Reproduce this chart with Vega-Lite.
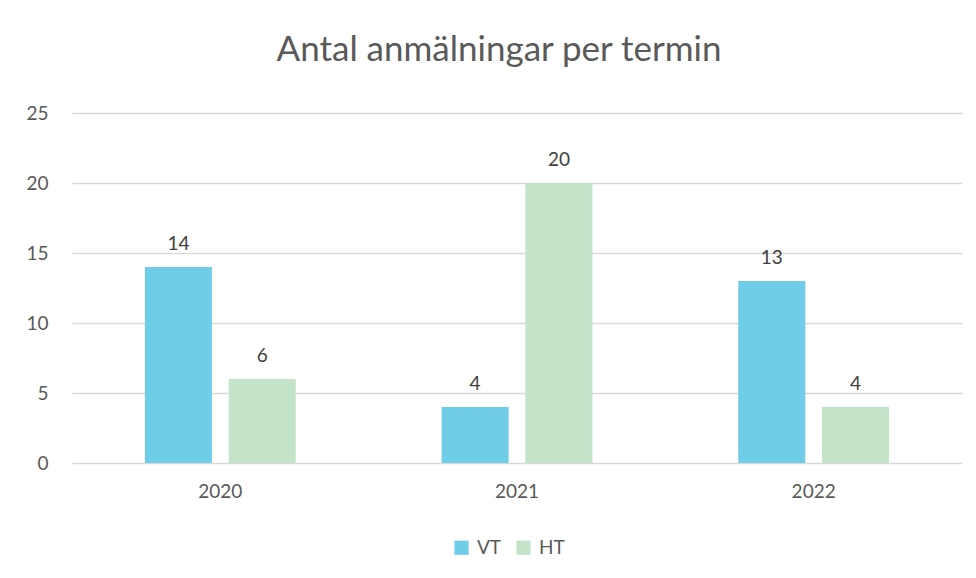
{
  "$schema": "https://vega.github.io/schema/vega-lite/v6.json",
  "width": 890,
  "height": 350,
  "autosize": {"type": "none"},
  "padding": {"left": 72, "top": 113, "right": 14, "bottom": 115},
  "background": "white",
  "title": {
    "text": "Antal anmälningar per termin",
    "fontSize": 35,
    "font": "Lato",
    "fontWeight": "normal",
    "color": "#595959",
    "anchor": "middle",
    "dx": -18,
    "offset": 36
  },
  "data": {
    "values": [
      {"year": "2020", "term": "VT", "count": 14},
      {"year": "2020", "term": "HT", "count": 6},
      {"year": "2021", "term": "VT", "count": 4},
      {"year": "2021", "term": "HT", "count": 20},
      {"year": "2022", "term": "VT", "count": 13},
      {"year": "2022", "term": "HT", "count": 4}
    ]
  },
  "encoding": {
    "x": {
      "field": "year",
      "type": "nominal",
      "scale": {"paddingInner": 0, "paddingOuter": 0},
      "axis": {
        "title": null,
        "labelAngle": 0,
        "labelFont": "Lato",
        "labelFontSize": 19,
        "labelColor": "#595959",
        "labelPadding": 19,
        "ticks": false,
        "domain": false
      }
    },
    "xOffset": {
      "field": "term",
      "type": "nominal",
      "sort": ["VT", "HT"],
      "scale": {"paddingInner": 0.2, "paddingOuter": 0.87}
    },
    "y": {
      "field": "count",
      "type": "quantitative",
      "scale": {"domain": [0, 25]},
      "axis": {
        "title": null,
        "values": [0, 5, 10, 15, 20, 25],
        "labelFont": "Lato",
        "labelFontSize": 19,
        "labelColor": "#595959",
        "labelPadding": 24,
        "ticks": false,
        "domain": false,
        "gridColor": "#d9d9d9",
        "gridWidth": 1.3
      }
    }
  },
  "layer": [
    {
      "mark": {"type": "bar"},
      "encoding": {
        "color": {
          "field": "term",
          "type": "nominal",
          "sort": ["VT", "HT"],
          "scale": {"domain": ["VT", "HT"], "range": ["#70CDE9", "#C3E4C8"]},
          "legend": {
            "title": null,
            "orient": "none",
            "direction": "horizontal",
            "legendX": 380,
            "legendY": 425,
            "symbolType": "square",
            "symbolSize": 200,
            "symbolStrokeWidth": 0,
            "labelFont": "Lato",
            "labelFontSize": 19,
            "labelColor": "#595959",
            "columnPadding": 12,
            "labelOffset": 6
          }
        }
      }
    },
    {
      "mark": {"type": "text", "baseline": "bottom", "dy": -13, "font": "Lato", "fontSize": 19, "color": "#404040"},
      "encoding": {
        "text": {"field": "count", "type": "quantitative"}
      }
    }
  ],
  "config": {"view": {"stroke": null}}
}
